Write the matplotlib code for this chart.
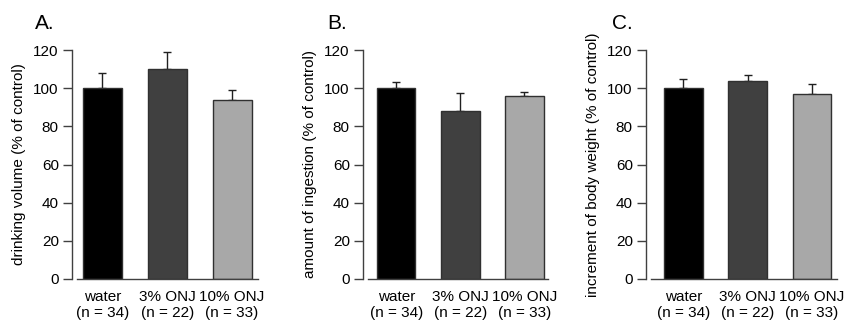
import matplotlib
matplotlib.use('Agg')
import matplotlib.pyplot as plt

plt.rcParams['font.family'] = ['Liberation Sans', 'DejaVu Sans']

# --- data ---
groups = ['water\n(n = 34)', '3% ONJ\n(n = 22)', '10% ONJ\n(n = 33)']
drinking = [100, 110, 94]
drinking_err = [8, 9, 5]
ingestion = [100, 88, 96]
ingestion_err = [3, 9.5, 2]
body_weight = [100, 103.5, 97]
body_weight_err = [5, 3.5, 5]
ylabels = ['drinking volume (% of control)',
           'amount of ingestion (% of control)',
           'increment of body weight (% of control)']
letters = ['A.', 'B.', 'C.']
yticks = [0, 20, 40, 60, 80, 100, 120]

bar_colors = ['#000000', '#404040', '#a8a8a8']

W, H = 844, 320
fig = plt.figure(figsize=(W / 100, H / 100), dpi=100)

# axes placement in pixels: (left, right), x limits, letter position
panels = [
    ((72, 258), (-0.47, 2.40), (35, 29)),
    ((363, 548), (-0.52, 2.37), (327, 29)),
    ((646, 837), (-0.58, 2.39), (612, 29)),
]
series = [(drinking, drinking_err), (ingestion, ingestion_err),
          (body_weight, body_weight_err)]

for i, ((l, r), xl, (tx, ty)) in enumerate(panels):
    ax = fig.add_axes([l / W, 1 - 279 / H, (r - l) / W, 229 / H])
    vals, errs = series[i]
    x = range(len(groups))
    ax.bar(x, vals, width=0.6, color=bar_colors, edgecolor='#303030',
           linewidth=1.0, zorder=2)
    ax.errorbar(x, vals, yerr=[[0] * 3, errs], fmt='none', ecolor='#202020',
                elinewidth=1.0, capsize=3, capthick=1.0, zorder=1)
    ax.set_xlim(*xl)
    ax.set_ylim(0, 120)
    ax.set_yticks(yticks)
    ax.set_xticks(list(x))
    ax.set_xticklabels(groups, fontsize=11, linespacing=1.15)
    ax.tick_params(axis='x', length=0, pad=8)
    ax.tick_params(axis='y', length=6.5, width=1, pad=3, labelsize=11,
                   color='#404040')
    ax.set_ylabel(ylabels[i], fontsize=11, labelpad=5)
    for s in ['top', 'right']:
        ax.spines[s].set_visible(False)
    for s in ['left', 'bottom']:
        ax.spines[s].set_color('#404040')
        ax.spines[s].set_linewidth(1.0)
    ax.spines['bottom'].set_bounds(xl[0] + 0.08, xl[1])
    fig.text(tx / W, 1 - ty / H, letters[i], fontsize=15, ha='left',
             va='baseline')

fig.savefig('out.png', dpi=100)
